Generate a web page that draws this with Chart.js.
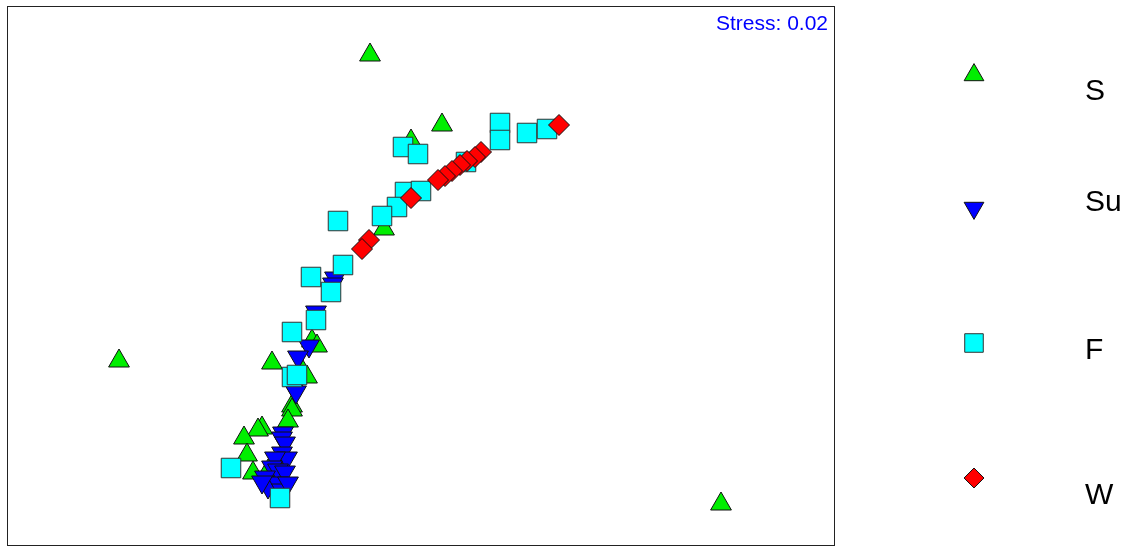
<!DOCTYPE html>
<html>
<head>
<meta charset="utf-8">
<script src="https://cdn.jsdelivr.net/npm/chart.js@4.4.1/dist/chart.umd.min.js"></script>
<style>
  html, body { margin: 0; padding: 0; background: #fff; }
  #wrap { width: 1137px; height: 546px; position: relative; }
</style>
</head>
<body>
<div id="wrap"><canvas id="c" width="1137" height="546"></canvas></div>
<script>
// NMDS ordination coordinates (in plot units)
const seriesNames = ['S', 'Su', 'F', 'W'];
const stressLabel = 'Stress: 0.02';

const S_x = [370, 442, 411, 119, 272, 721, 384, 312, 317, 303, 307, 292, 292, 288, 262, 258, 244, 247, 253, 268];
const S_y = [55, 125, 141, 361, 363, 504, 229, 341, 346, 372, 377, 406, 410, 421, 428, 430, 438, 455, 473, 471];

const Su_x = [316, 335, 333, 309, 298, 294, 296, 283, 282, 285, 282, 287, 275, 272, 278, 285, 265, 268, 278, 282, 262, 288];
const Su_y = [312, 278, 284, 346, 357, 388, 392, 433, 438, 443, 453, 458, 458, 467, 470, 472, 477, 487, 483, 490, 482, 483];

const F_x = [500, 500, 527, 547, 466, 403, 418, 405, 421, 397, 382, 338, 343, 311, 331, 316, 292, 292, 297, 231, 280];
const F_y = [123, 140, 133, 129, 162, 147, 154, 192, 191, 207, 216, 221, 265, 277, 292, 320, 332, 377, 375, 468, 498];

const W_x = [559, 481, 475, 467, 460, 452, 445, 438, 411, 369, 362];
const W_y = [125, 152, 157, 161, 165, 171, 176, 180, 198, 240, 249];

const toPts = (xs, ys) => xs.map((x, i) => ({ x: x, y: ys[i] }));

const styles = {
  S:  { color: '#00ee00', pointStyle: 'triangle', radius: 12, rotation: 0, order: 4, border: '#111' },
  Su: { color: '#0000ff', pointStyle: 'triangle', radius: 12, rotation: 180, order: 3, border: '#111' },
  F:  { color: '#00ffff', pointStyle: 'rect', radius: 13.8, rotation: 0, order: 2, border: '#333' },
  W:  { color: '#ff0000', pointStyle: 'rectRot', radius: 10.5, rotation: 0, order: 1, border: '#111' }
};

const seriesData = {
  S: toPts(S_x, S_y),
  Su: toPts(Su_x, Su_y),
  F: toPts(F_x, F_y),
  W: toPts(W_x, W_y)
};

const datasets = seriesNames.map(n => ({
  label: n,
  data: seriesData[n],
  order: styles[n].order,
  pointStyle: styles[n].pointStyle,
  pointRadius: styles[n].radius,
  pointHoverRadius: styles[n].radius,
  pointRotation: styles[n].rotation,
  backgroundColor: styles[n].color,
  borderColor: styles[n].border,
  borderWidth: 1,
  showLine: false
}));

const LEFT = 7, TOP = 6, RIGHT = 834, BOTTOM = 545;

function drawMarker(ctx, n, x, y) {
  const s = styles[n];
  ctx.save();
  ctx.fillStyle = s.color;
  ctx.strokeStyle = s.border;
  ctx.lineWidth = 1;
  Chart.helpers.drawPoint(ctx, { pointStyle: s.pointStyle, radius: s.radius * 0.95, rotation: s.rotation, borderWidth: 1 }, x, y);
  ctx.restore();
}

const overlay = {
  id: 'overlay',
  afterDraw(chart) {
    const ctx = chart.ctx;
    ctx.save();
    // plot frame
    ctx.strokeStyle = '#222';
    ctx.lineWidth = 1;
    ctx.strokeRect(LEFT + 0.5, TOP + 0.5, RIGHT - LEFT, BOTTOM - TOP);
    // stress
    ctx.fillStyle = '#0000ff';
    ctx.font = '21px "Liberation Sans", Arial, sans-serif';
    ctx.textAlign = 'right';
    ctx.textBaseline = 'alphabetic';
    ctx.fillText(stressLabel, 828, 30);
    // legend
    const markerY = [75, 208, 343, 478];
    const labelY = [100, 211, 359, 504];
    ctx.font = '30px "Liberation Sans", Arial, sans-serif';
    ctx.textAlign = 'left';
    seriesNames.forEach((n, i) => {
      drawMarker(ctx, n, 974, markerY[i]);
      ctx.fillStyle = '#000';
      ctx.fillText(n, 1085, labelY[i]);
    });
    ctx.restore();
  }
};

new Chart(document.getElementById('c'), {
  type: 'scatter',
  data: { datasets: datasets },
  options: {
    responsive: false,
    animation: false,
    layout: { autoPadding: false, padding: { left: LEFT, top: TOP, right: 1137 - RIGHT, bottom: 546 - BOTTOM } },
    plugins: { legend: { display: false }, tooltip: { enabled: false } },
    scales: {
      x: { type: 'linear', display: false, min: LEFT, max: RIGHT },
      y: { type: 'linear', display: false, min: TOP, max: BOTTOM, reverse: true }
    }
  },
  plugins: [overlay]
});
</script>
</body>
</html>
